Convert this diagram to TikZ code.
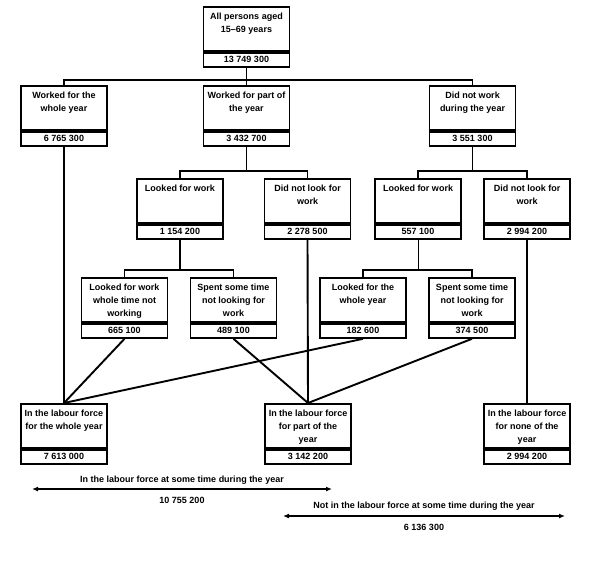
\documentclass[tikz,border=0pt]{standalone}
\usepackage{fontspec}
\setmainfont{Liberation Sans}
\usetikzlibrary{positioning,arrows.meta}

\newcommand{\boxlabel}[1]{\parbox[t][40pt][t]{84pt}{\centering\rule{0pt}{11pt}#1}}

\begin{document}
\begin{tikzpicture}[x=1pt,y=-1pt,line width=1.9pt,
  font=\fontsize{9}{13}\selectfont\bfseries,
  labelbox/.style={draw, anchor=north, inner sep=1pt, minimum width=86pt, minimum height=44pt},
  numbox/.style={draw, anchor=north, inner sep=1pt, minimum width=86pt, minimum height=14pt},
  span/.style={{Latex[length=6pt,width=5pt]}-{Latex[length=6pt,width=5pt]}}]
\useasboundingbox (0,0) rectangle (591,560);

% Population
\node[labelbox] (all) at (246.5,6) {\boxlabel{All persons aged\\15--69 years}};
\node[numbox] (all-n) at (all.south) {13 749 300};

% Work during the year
\node[labelbox] (wy) at (64,85) {\boxlabel{Worked for the\\whole year}};
\node[numbox] (wy-n) at (wy.south) {6 765 300};
\node[labelbox] (pp) at (246.5,85) {\boxlabel{Worked for part of\\the year}};
\node[numbox] (pp-n) at (pp.south) {3 432 700};
\node[labelbox] (dw) at (472.5,85) {\boxlabel{Did not work\\during the year}};
\node[numbox] (dw-n) at (dw.south) {3 551 300};

% Looking for work
\node[labelbox] (lw1) at (180,178) {\boxlabel{Looked for work}};
\node[numbox] (lw1-n) at (lw1.south) {1 154 200};
\node[labelbox] (dn1) at (307.5,178) {\boxlabel{Did not look for\\work}};
\node[numbox] (dn1-n) at (dn1.south) {2 278 500};
\node[labelbox] (lw2) at (418,178) {\boxlabel{Looked for work}};
\node[numbox] (lw2-n) at (lw2.south) {557 100};
\node[labelbox] (dn2) at (527,178) {\boxlabel{Did not look for\\work}};
\node[numbox] (dn2-n) at (dn2.south) {2 994 200};

% How long they looked
\node[labelbox] (lwt) at (124.5,277) {\boxlabel{Looked for work\\whole time not\\working}};
\node[numbox] (lwt-n) at (lwt.south) {665 100};
\node[labelbox] (sst1) at (233.5,277) {\boxlabel{Spent some time\\not looking for\\work}};
\node[numbox] (sst1-n) at (sst1.south) {489 100};
\node[labelbox] (lwy) at (363,277) {\boxlabel{Looked for the\\whole year}};
\node[numbox] (lwy-n) at (lwy.south) {182 600};
\node[labelbox] (sst2) at (472,277) {\boxlabel{Spent some time\\not looking for\\work}};
\node[numbox] (sst2-n) at (sst2.south) {374 500};

% Labour force status
\node[labelbox] (lfw) at (64,403) {\boxlabel{In the labour force\\for the whole year}};
\node[numbox] (lfw-n) at (lfw.south) {7 613 000};
\node[labelbox] (lfp) at (308,403) {\boxlabel{In the labour force\\for part of the\\year}};
\node[numbox] (lfp-n) at (lfp.south) {3 142 200};
\node[labelbox] (lfn) at (527,403) {\boxlabel{In the labour force\\for none of the\\year}};
\node[numbox] (lfn-n) at (lfn.south) {2 994 200};

% Tree branches
\path (all-n.south) ++(0,12) coordinate (bus1);
\draw (all-n.south) -- (pp.north);
\draw (wy.north) |- (bus1) -| (dw.north);

\path (pp-n.south) ++(0,24) coordinate (bus2);
\draw (pp-n.south) -- (bus2);
\draw (lw1.north) |- (bus2) -| (dn1.north);

\path (dw-n.south) ++(0,24) coordinate (bus3);
\draw (dw-n.south) -- (bus3);
\draw (lw2.north) |- (bus3) -| (dn2.north);

\path (lw1-n.south) ++(0,30) coordinate (bus4);
\draw (lw1-n.south) -- (bus4);
\draw (lwt.north) |- (bus4) -| (sst1.north);

\path (lw2-n.south) ++(0,30) coordinate (bus5);
\draw[line width=0.6pt] (lw2-n.south) -- (bus5);
\draw (lwy.north) |- (bus5) -| (sst2.north);

% Into labour force status
\draw (wy-n.south) -- (lfw.north);
\draw (lwt-n.south) -- (lfw.north);
\draw (lwy-n.south) -- (lfw.north);
\draw (sst1-n.south) -- (lfp.north);
\draw (dn1-n.south) -- (lfp.north);
\draw (sst2-n.south) -- (lfp.north);
\draw (dn2-n.south) -- (lfn.north);

% Totals
\coordinate (in-l) at (32,489);
\coordinate (in-r) at (332,489);
\draw[span] (in-l) -- node[above] (in-t) {In the labour force at some time during the year}
  node[below=4pt] (in-v) {10 755 200} (in-r);
\coordinate (out-l) at (283,516);
\coordinate (out-r) at (565,516);
\draw[span] (out-l) -- node[above=1pt] (out-t) {Not in the labour force at some time during the year}
  node[below=3.5pt] (out-v) {6 136 300} (out-r);
\end{tikzpicture}
\end{document}
